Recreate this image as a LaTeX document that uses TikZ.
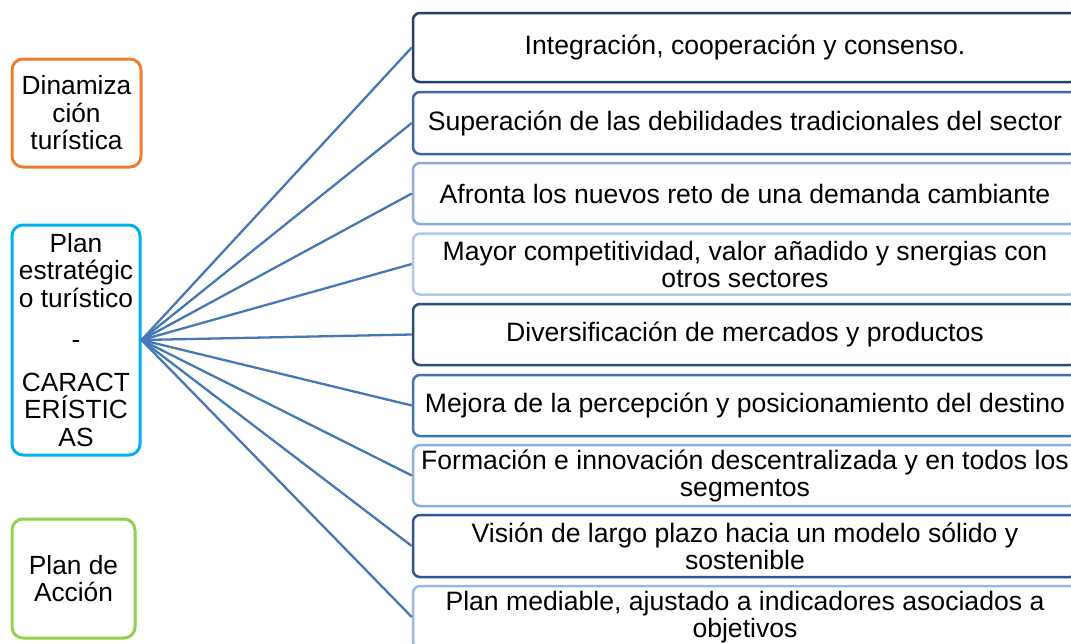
\documentclass[tikz,border=0pt]{standalone}
\usepackage{fontspec}
\setmainfont{Liberation Sans}
\definecolor{corange}{HTML}{ED7D31}
\definecolor{ccyan}{HTML}{00B0F0}
\definecolor{cgreen}{HTML}{92D050}
\definecolor{cline}{HTML}{4678B4}
\definecolor{bA}{HTML}{243F70}
\definecolor{bB}{HTML}{3E66A6}
\definecolor{bC}{HTML}{8FAADC}
\definecolor{bD}{HTML}{B4C7E7}
\definecolor{bE}{HTML}{2A4D7C}
\definecolor{bF}{HTML}{3F74B5}
\definecolor{bG}{HTML}{8EAEDD}
\definecolor{bH}{HTML}{2E5597}
\definecolor{bI}{HTML}{9AB7E2}
\tikzset{
  leftbox/.style={draw, line width=3pt, rounded corners=11pt, fill=white, align=center,
    inner sep=0pt, font=\fontsize{26.3}{27.5}\selectfont},
  itembox/.style={draw=#1, line width=2.5pt, rounded corners=7pt, fill=white, align=center,
    inner sep=0pt, minimum width=664pt, font=\fontsize{26.6}{27}\selectfont},
  fan/.style={draw=cline, line width=2.3pt}
}
\begin{document}
\begin{tikzpicture}[x=1pt,y=1pt]
\useasboundingbox (0,0) rectangle (1071,-643);
% left boxes
\node[leftbox, draw=corange, minimum width=129pt, minimum height=108pt] (din) at (76.5,-113) {Dinamiza\\ción\\turística};
\node[leftbox, draw=ccyan, minimum width=128pt, minimum height=230pt] (plan) at (76,-340) {Plan\\estratégic\\o turístico\\[14pt]-\\[15pt]CARACT\\ERÍSTIC\\AS};
\node[leftbox, draw=cgreen, minimum width=123pt, minimum height=119pt] (acc) at (73.5,-578.5) {Plan de\\Acción};
% right boxes
\node[itembox=bA, minimum height=69pt] (b1) at (745,-47.5) {Integración, cooperación y consenso.};
\node[itembox=bB, minimum height=62pt] (b2) at (745,-123) {Superación de las debilidades tradicionales del sector};
\node[itembox=bC, minimum height=61pt] (b3) at (745,-193.5) {Afronta los nuevos reto de una demanda cambiante};
\node[itembox=bD, minimum height=61pt] (b4) at (745,-264) {Mayor competitividad, valor añadido y snergias con\\otros sectores};
\node[itembox=bE, minimum height=61pt] (b5) at (745,-334.5) {Diversificación de mercados y productos};
\node[itembox=bF, minimum height=61pt] (b6) at (745,-405.5) {Mejora de la percepción y posicionamiento del destino};
\node[itembox=bG, minimum height=61pt] (b7) at (745,-475.5) {Formación e innovación descentralizada y en todos los\\segmentos};
\node[itembox=bH, minimum height=62pt] (b8) at (745,-546) {Visión de largo plazo hacia un modelo sólido y\\sostenible};
\node[itembox=bI, minimum height=62pt] (b9) at (745,-617) {Plan mediable, ajustado a indicadores asociados a\\objetivos};
% connectors
\foreach \b in {b1,b2,b3,b4,b5,b6,b7,b8,b9}
  \draw[fan] (plan.east) -- (\b.west);
\end{tikzpicture}
\end{document}
